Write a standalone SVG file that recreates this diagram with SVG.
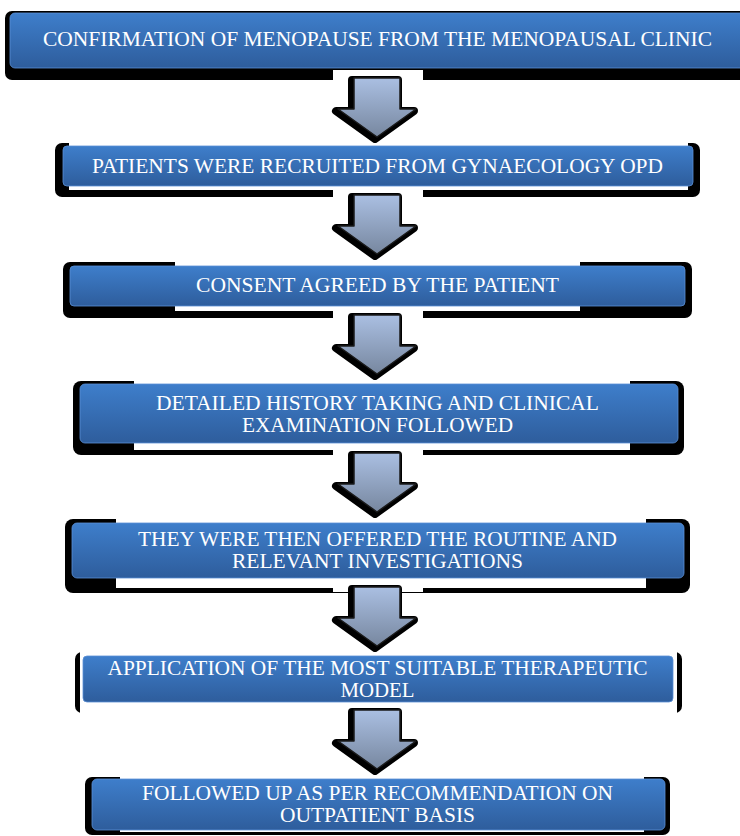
<svg xmlns="http://www.w3.org/2000/svg" xmlns:xlink="http://www.w3.org/1999/xlink" width="740" height="836" viewBox="0 0 740 836">
<defs>
<linearGradient id="blue" x1="0" y1="0" x2="0" y2="1">
<stop offset="0" stop-color="#3e7ecb"/>
<stop offset="1" stop-color="#2e5d9c"/>
</linearGradient>
<linearGradient id="arr" x1="0" y1="0" x2="0" y2="1">
<stop offset="0" stop-color="#aabfe2"/>
<stop offset="1" stop-color="#77879f"/>
</linearGradient>
<path id="arrowShape" d="M354,0 H400 V31 H416 L377,59 L338,31 H354 Z"/>
<style>
.shadow{fill:#000}
.frame{fill:#fff}
.box{fill:url(#blue);stroke:#5a8fd6;stroke-width:0.8}
.lbl{fill:#fff;font-family:"Liberation Serif","Times New Roman",serif;font-size:21px;text-anchor:middle}
.abg{fill:#fff}
.ash{fill:#000;stroke:#000;stroke-width:8;stroke-linejoin:round}
.afill{fill:url(#arr);stroke:#1a1a1a;stroke-width:1.5;stroke-linejoin:round}
</style>
</defs>
<rect width="740" height="836" fill="#fff"/>

<g id="node1">
<rect class="shadow" x="5" y="11" width="750" height="69" rx="7"/>
<rect class="box" x="10" y="13" width="740" height="55" rx="5"/>
<text class="lbl" x="377.5" y="46" textLength="669" lengthAdjust="spacingAndGlyphs">CONFIRMATION OF MENOPAUSE FROM THE MENOPAUSAL CLINIC</text>
</g>

<g id="node2">
<rect class="shadow" x="55" y="143" width="645" height="54" rx="7"/>
<rect class="frame" x="69" y="140" width="619" height="50"/>
<rect class="box" x="63" y="146" width="630" height="40" rx="4"/>
<text class="lbl" x="377.5" y="173" textLength="571" lengthAdjust="spacingAndGlyphs">PATIENTS WERE RECRUITED FROM GYNAECOLOGY OPD</text>
</g>

<g id="node3">
<rect class="shadow" x="63" y="262" width="629" height="56" rx="7"/>
<rect class="frame" x="175" y="259" width="405" height="52"/>
<rect class="box" x="70" y="266" width="615" height="40" rx="4"/>
<text class="lbl" x="377.5" y="292" textLength="363" lengthAdjust="spacingAndGlyphs">CONSENT AGREED BY THE PATIENT</text>
</g>

<g id="node4">
<rect class="shadow" x="73" y="381" width="611" height="74" rx="8"/>
<rect class="frame" x="134" y="378" width="496" height="72"/>
<rect class="box" x="80" y="384" width="598" height="59" rx="5"/>
<text class="lbl" x="377.5" y="410" textLength="443" lengthAdjust="spacingAndGlyphs">DETAILED HISTORY TAKING AND CLINICAL</text>
<text class="lbl" x="377.5" y="432" textLength="271" lengthAdjust="spacingAndGlyphs">EXAMINATION FOLLOWED</text>
</g>

<g id="node5">
<rect class="shadow" x="65" y="519" width="625" height="74" rx="8"/>
<rect class="frame" x="116" y="516" width="530" height="72"/>
<rect class="box" x="72" y="523" width="612" height="55" rx="5"/>
<text class="lbl" x="377.5" y="546" textLength="479" lengthAdjust="spacingAndGlyphs">THEY WERE THEN OFFERED THE ROUTINE AND</text>
<text class="lbl" x="377.5" y="568" textLength="291" lengthAdjust="spacingAndGlyphs">RELEVANT INVESTIGATIONS</text>
</g>

<g id="node6">
<rect class="shadow" x="75" y="652" width="607" height="61" rx="7"/>
<rect class="frame" x="80" y="648" width="597" height="70"/>
<rect class="box" x="83" y="656" width="590" height="46" rx="4"/>
<text class="lbl" x="377.5" y="675" textLength="540" lengthAdjust="spacingAndGlyphs">APPLICATION OF THE MOST SUITABLE THERAPEUTIC</text>
<text class="lbl" x="377.5" y="697" textLength="74" lengthAdjust="spacingAndGlyphs">MODEL</text>
</g>

<g id="node7">
<rect class="shadow" x="85" y="777" width="585" height="58" rx="7"/>
<rect class="frame" x="120" y="774" width="524" height="58"/>
<rect class="box" x="92" y="779" width="573" height="51" rx="5"/>
<text class="lbl" x="377.5" y="800" textLength="471" lengthAdjust="spacingAndGlyphs">FOLLOWED UP AS PER RECOMMENDATION ON</text>
<text class="lbl" x="377.5" y="822" textLength="195" lengthAdjust="spacingAndGlyphs">OUTPATIENT BASIS</text>
</g>

<g id="connectors">
<g transform="translate(0,78)">
<rect class="abg" x="333" y="-8" width="90" height="12"/>
<use href="#arrowShape" xlink:href="#arrowShape" class="ash" transform="translate(-2,2)"/>
<use href="#arrowShape" xlink:href="#arrowShape" class="afill"/>
</g>
<g transform="translate(0,195)">
<rect class="abg" x="333" y="-7" width="90" height="12"/>
<use href="#arrowShape" xlink:href="#arrowShape" class="ash" transform="translate(-2,2)"/>
<use href="#arrowShape" xlink:href="#arrowShape" class="afill"/>
</g>
<g transform="translate(0,315)">
<rect class="abg" x="333" y="-7" width="90" height="12"/>
<use href="#arrowShape" xlink:href="#arrowShape" class="ash" transform="translate(-2,2)"/>
<use href="#arrowShape" xlink:href="#arrowShape" class="afill"/>
</g>
<g transform="translate(0,453)">
<rect class="abg" x="333" y="-7" width="90" height="12"/>
<use href="#arrowShape" xlink:href="#arrowShape" class="ash" transform="translate(-2,2)"/>
<use href="#arrowShape" xlink:href="#arrowShape" class="afill"/>
</g>
<g transform="translate(0,587)">
<rect class="abg" x="333" y="-7" width="90" height="12"/>
<use href="#arrowShape" xlink:href="#arrowShape" class="ash" transform="translate(-2,2)"/>
<use href="#arrowShape" xlink:href="#arrowShape" class="afill"/>
</g>
<g transform="translate(0,710)">
<rect class="abg" x="333" y="-6" width="90" height="11"/>
<use href="#arrowShape" xlink:href="#arrowShape" class="ash" transform="translate(-2,2)"/>
<use href="#arrowShape" xlink:href="#arrowShape" class="afill"/>
</g>
</g>
</svg>
